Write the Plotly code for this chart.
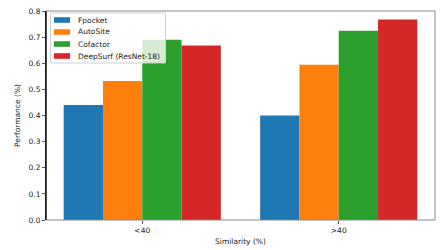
import plotly.graph_objects as go

categories = ["<40", ">40"]
series_names = ["Fpocket", "AutoSite", "Cofactor", "DeepSurf (ResNet-18)"]
fpocket = [0.44, 0.40]
autosite = [0.532, 0.594]
cofactor = [0.690, 0.724]
deepsurf = [0.668, 0.767]
colors = ["#1f77b4", "#ff7f0e", "#2ca02c", "#d62728"]
y_ticks = [0.0, 0.1, 0.2, 0.3, 0.4, 0.5, 0.6, 0.7, 0.8]

W, H = 448, 250
ML, MR, MT, MB = 46, 13, 11, 30
PW, PH = W - ML - MR, H - MT - MB

fig = go.Figure()
for name, vals, c in zip(series_names, [fpocket, autosite, cofactor, deepsurf], colors):
    fig.add_trace(go.Bar(x=categories, y=vals, name=name, showlegend=False,
                         marker=dict(color=c, line=dict(width=0))))

font = dict(family="DejaVu Sans", size=7.5, color="#222")
fig.update_layout(
    width=W, height=H,
    margin=dict(l=ML, r=MR, t=MT, b=MB, autoexpand=False),
    paper_bgcolor="white", plot_bgcolor="white",
    barmode="group", bargap=0.2, bargroupgap=0,
    font=font,
    xaxis=dict(range=[-0.49, 1.49], showgrid=False, ticks="outside", ticklen=3,
               tickcolor="#555", automargin=False,
               title=dict(text="Similarity (%)", standoff=4, font=dict(size=7.5)),
               zeroline=False),
    yaxis=dict(range=[0, 0.8], tickvals=y_ticks, ticktext=[f"{v:.1f}" for v in y_ticks],
               showgrid=False, ticks="outside", ticklen=3, tickcolor="#555",
               showline=True, linecolor="black", linewidth=1, automargin=False,
               title=dict(text="Performance (%)", standoff=6, font=dict(size=7.5)),
               zeroline=False),
)
fig.add_shape(type="rect", xref="paper", yref="paper", x0=0, y0=0, x1=1, y1=1,
              line=dict(color="#888", width=1), layer="above")
fig.add_shape(type="line", xref="paper", yref="paper", x0=0, y0=0, x1=0, y1=1,
              line=dict(color="black", width=1.2), layer="above")

# custom compact legend (matplotlib style)
def px_x(p):
    return (p - ML) / PW
def px_y(p):
    return (H - MB - p) / PH

fig.add_shape(type="rect", xref="paper", yref="paper",
              x0=px_x(50.5), x1=px_x(165.5), y0=px_y(63), y1=px_y(13),
              line=dict(color="#d0d0d0", width=1), fillcolor="rgba(255,255,255,0.8)",
              layer="above")
for i, (name, c) in enumerate(zip(series_names, colors)):
    cy = 20 + i * 12
    fig.add_shape(type="rect", xref="paper", yref="paper",
                  x0=px_x(54), x1=px_x(70), y0=px_y(cy + 2.8), y1=px_y(cy - 2.8),
                  line=dict(width=0), fillcolor=c, layer="above")
    fig.add_annotation(xref="paper", yref="paper", x=px_x(76), y=px_y(cy),
                       xanchor="left", yanchor="middle", showarrow=False,
                       text=name, font=dict(family="DejaVu Sans", size=7.5, color="#222"))
fig.write_html("out.html", config={"displayModeBar": False},
               post_script="document.body.style.margin='0';document.body.style.overflow='hidden';")
